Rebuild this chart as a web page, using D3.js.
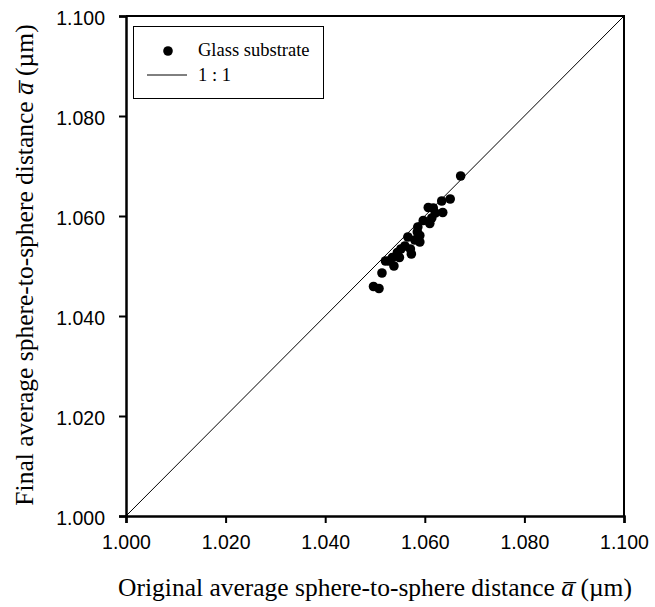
<!DOCTYPE html>
<html>
<head>
<meta charset="utf-8">
<script src="https://cdn.jsdelivr.net/npm/d3@7"></script>
<style>
  body { margin: 0; background: #fff; }
  svg { display: block; }
</style>
</head>
<body>
<div id="chart"></div>
<script>
/* data */
const xTicks = [1.000, 1.020, 1.040, 1.060, 1.080, 1.100];
const yTicks = [1.000, 1.020, 1.040, 1.060, 1.080, 1.100];
const originalA = [1.0672, 1.0651, 1.0634, 1.0636, 1.0607, 1.0617, 1.0621, 1.0614, 1.0610, 1.0597,
  1.0586, 1.0585, 1.0590, 1.0590, 1.0566, 1.0571, 1.0573, 1.0552, 1.0545, 1.0549,
  1.0535, 1.0528, 1.0521, 1.0538, 1.0514, 1.0497, 1.0508, 1.0560, 1.0580];
const finalA = [1.0680, 1.0634, 1.0630, 1.0607, 1.0617, 1.0616, 1.0606, 1.0596, 1.0585, 1.0591,
  1.0578, 1.0568, 1.0561, 1.0548, 1.0558, 1.0534, 1.0524, 1.0534, 1.0527, 1.0517,
  1.0517, 1.0510, 1.0510, 1.0500, 1.0486, 1.0459, 1.0455, 1.0540, 1.0552];
const legendLabels = ["Glass substrate", "1 : 1"];

document.addEventListener("DOMContentLoaded", function() {
  "use strict";

  const w = 655;
  const h = 607;
  const left = 126, right = 624, top = 16, bottom = 516;
  const serif = "Liberation Serif, Times New Roman, serif";
  const sans = "Liberation Sans, Arial, sans-serif";

  const xScale = d3.scaleLinear().domain([1.0, 1.1]).range([left, right]);
  const yScale = d3.scaleLinear().domain([1.0, 1.1]).range([bottom, top]);

  const svg = d3.select("#chart").append("svg")
    .attr("width", w)
    .attr("height", h);

  // 1:1 line
  svg.append("line")
    .attr("x1", xScale(1.0)).attr("y1", yScale(1.0))
    .attr("x2", xScale(1.1)).attr("y2", yScale(1.1))
    .attr("stroke", "#000").attr("stroke-width", 1);

  // points
  svg.append("g").selectAll("circle")
    .data(originalA.map((v, i) => ({x: v, y: finalA[i]})))
    .enter().append("circle")
    .attr("cx", d => xScale(d.x))
    .attr("cy", d => yScale(d.y))
    .attr("r", 4.8)
    .attr("fill", "#000");

  // frame (top + right)
  svg.append("path")
    .attr("d", `M${left},${top}H${right}V${bottom}`)
    .attr("fill", "none").attr("stroke", "#000").attr("stroke-width", 2);

  // axes
  const xAxis = d3.axisBottom(xScale).tickValues(xTicks).tickFormat(d3.format(".3f")).tickSize(7).tickPadding(8);
  const gx = svg.append("g")
    .attr("transform", `translate(0,${bottom})`)
    .call(xAxis);
  const yAxis = d3.axisLeft(yScale).tickValues(yTicks).tickFormat(d3.format(".3f")).tickSize(7).tickPadding(14);
  const gy = svg.append("g")
    .attr("transform", `translate(${left},0)`)
    .call(yAxis);

  [gx, gy].forEach(g => {
    g.select(".domain").attr("stroke-width", 2.5);
    g.selectAll(".tick line").attr("stroke-width", 2);
    g.selectAll(".tick text")
      .attr("font-family", sans)
      .attr("font-size", 19.5)
      .attr("fill", "#000");
  });
  gx.selectAll(".tick text").attr("dy", "0.9em");
  gy.selectAll(".tick text").attr("dy", "0.45em");

  // axis titles
  const xt = svg.append("text")
    .attr("x", 375).attr("y", 596)
    .attr("text-anchor", "middle")
    .attr("font-family", serif)
    .attr("font-size", 25.5);
  xt.append("tspan").text("Original average sphere-to-sphere distance ");
  xt.append("tspan").attr("font-style", "italic").text("a\u0305");
  xt.append("tspan").text(" (\u00b5m)");

  const yt = svg.append("text")
    .attr("transform", "translate(33,265) rotate(-90)")
    .attr("text-anchor", "middle")
    .attr("font-family", serif)
    .attr("font-size", 25.5);
  yt.append("tspan").text("Final average sphere-to-sphere distance ");
  yt.append("tspan").attr("font-style", "italic").text("a\u0305");
  yt.append("tspan").text(" (\u00b5m)");

  // legend
  const lg = svg.append("g");
  lg.append("rect")
    .attr("x", 133.5).attr("y", 26.5).attr("width", 190).attr("height", 72)
    .attr("fill", "#fff").attr("stroke", "#000").attr("stroke-width", 1);
  lg.append("circle").attr("cx", 168).attr("cy", 51).attr("r", 4.8).attr("fill", "#000");
  lg.append("line").attr("x1", 147).attr("x2", 187).attr("y1", 75).attr("y2", 75)
    .attr("stroke", "#000").attr("stroke-width", 1);
  lg.selectAll("text.leg")
    .data(legendLabels).enter().append("text")
    .attr("class", "leg")
    .attr("x", 198)
    .attr("y", (d, i) => 56 + i * 25)
    .attr("font-family", serif)
    .attr("font-size", 18.5)
    .text(d => d);
});
</script>
</body>
</html>
